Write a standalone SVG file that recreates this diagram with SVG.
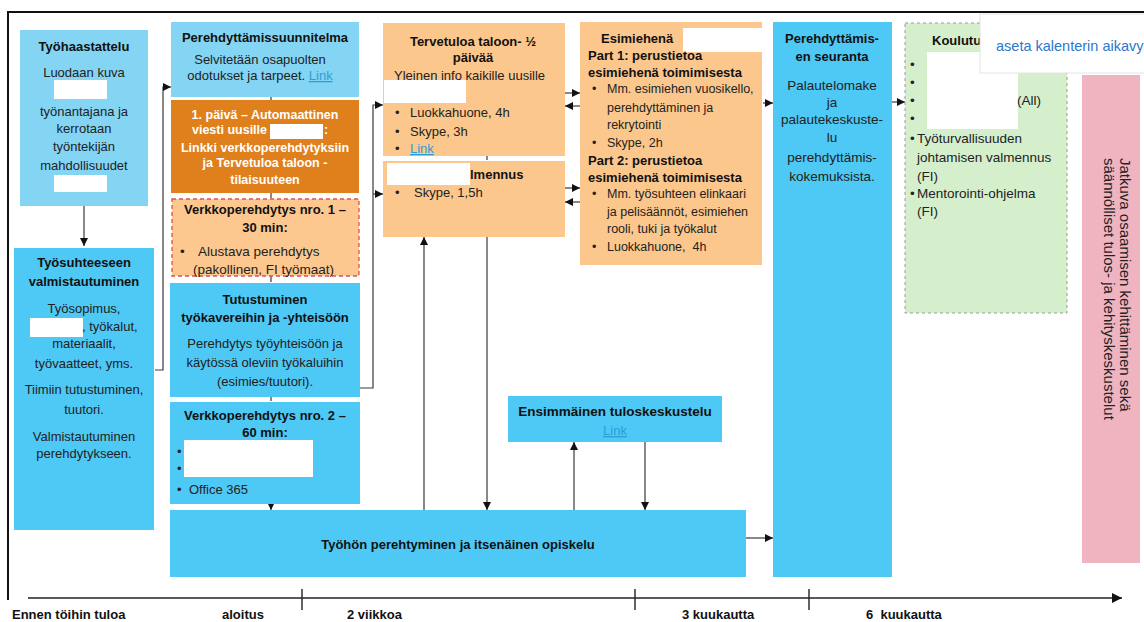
<svg xmlns="http://www.w3.org/2000/svg" width="1144" height="622" viewBox="0 0 1144 622">
<style>
text{font-family:"Liberation Sans",Arial,sans-serif;font-size:13px;fill:#222}
.b{font-weight:bold;font-size:13px;fill:#111}
.c{text-anchor:middle}
.w{fill:#fff;font-weight:bold;font-size:12.5px}
.e{font-size:12.5px}
.k{font-size:13.5px}
.lnk{fill:#2a9fd8;text-decoration:underline}
.lb{fill:#84d4f3}
.db{fill:#4ec8f4}
.lo{fill:#fcc78c}
.mask{fill:#fff}
.cn{fill:none;stroke:#3a3a3a;stroke-width:1.2}
.ax{fill:none;stroke:#222;stroke-width:1.4}
.tl{font-weight:bold;font-size:13px;fill:#111}
</style>
<defs>
<marker id="ah" viewBox="0 0 10 10" refX="10" refY="5" markerWidth="8" markerHeight="8" markerUnits="userSpaceOnUse" orient="auto">
<path d="M0,0 L10,5 L0,10 z" fill="#111"/>
</marker>
<marker id="ah2" viewBox="0 0 10 10" refX="10" refY="5" markerWidth="10" markerHeight="10" markerUnits="userSpaceOnUse" orient="auto">
<path d="M0,0 L10,5 L0,10 z" fill="#111"/>
</marker>
</defs>
<rect x="0" y="0" width="1144" height="622" fill="#fff"/>
<path d="M8,600 V12 H1144" fill="none" stroke="#111" stroke-width="2"/>

<g id="connectors">
<path class="cn" d="M84,206 V246" marker-end="url(#ah)"/>
<path class="cn" d="M155,370 H163 V87 H171" marker-end="url(#ah)"/>
<path class="cn" d="M271,97 V100 M271,193 V198 M271,276 V282 M271,397 V401"/>
<path class="cn" d="M271,504 V510" marker-end="url(#ah)"/>
<path class="cn" d="M360,388 H373 V105 H383" marker-end="url(#ah)"/>
<path class="cn" d="M373,194 H383" marker-end="url(#ah)"/>
<path class="cn" d="M565,93 H580" marker-end="url(#ah)"/>
<path class="cn" d="M580,106 H565" marker-end="url(#ah)"/>
<path class="cn" d="M565,188 H580" marker-end="url(#ah)"/>
<path class="cn" d="M580,202 H565" marker-end="url(#ah)"/>
<path class="cn" d="M487,142 V160"/>
<path class="cn" d="M487,237 V510" marker-end="url(#ah)"/>
<path class="cn" d="M424,510 V237" marker-end="url(#ah)"/>
<path class="cn" d="M574,510 V442" marker-end="url(#ah)"/>
<path class="cn" d="M645,442 V510" marker-end="url(#ah)"/>
<path class="cn" d="M746,538 H773" marker-end="url(#ah)"/>
<path class="cn" d="M763,103 H773" marker-end="url(#ah)"/>
<path class="cn" d="M892,102 H905" marker-end="url(#ah)"/>
</g>

<g id="n-tyohaastattelu">
<rect class="lb" x="20" y="30" width="128" height="176"/>
<text class="b c" x="84" y="51">Työhaastattelu</text>
<text class="c" x="84" y="77">Luodaan kuva</text>
<rect class="mask" x="54" y="80" width="53" height="19"/>
<text class="c" x="84" y="116">työnantajana ja</text>
<text class="c" x="84" y="133">kerrotaan</text>
<text class="c" x="84" y="151">työntekijän</text>
<text class="c" x="84" y="170">mahdollisuudet</text>
<rect class="mask" x="54" y="175" width="53" height="17"/>
</g>

<g id="n-tyosuhteeseen">
<rect class="db" x="14" y="248" width="140" height="282"/>
<text class="b c" x="84" y="267">Työsuhteeseen</text>
<text class="b c" x="84" y="286">valmistautuminen</text>
<text class="c" x="84" y="313">Työsopimus,</text>
<rect class="mask" x="30" y="318" width="53" height="19"/>
<text x="82" y="331">, työkalut,</text>
<text class="c" x="84" y="348">materiaalit,</text>
<text class="c" x="84" y="368">työvaatteet, yms.</text>
<text class="c" x="84" y="394">Tiimiin tutustuminen,</text>
<text class="c" x="84" y="414">tuutori.</text>
<text class="c" x="84" y="441">Valmistautuminen</text>
<text class="c" x="84" y="458">perehdytykseen.</text>
</g>

<g id="n-suunnitelma">
<rect class="lb" x="171" y="22" width="188" height="75"/>
<text class="b c" x="265" y="42">Perehdyttämissuunnitelma</text>
<text class="c" x="260" y="64">Selvitetään osapuolten</text>
<text class="c" x="260" y="80">odotukset ja tarpeet. <tspan class="lnk">Link</tspan></text>
</g>

<g id="n-paiva1">
<rect x="171" y="100" width="188" height="93" fill="#e0801c"/>
<text class="w c" x="265" y="119">1. päivä – Automaattinen</text>
<text class="w" x="267" y="134" text-anchor="end">viesti uusille</text>
<rect x="270" y="124" width="53" height="15" fill="#fff"/>
<text class="w" x="324" y="134">:</text>
<text class="w c" x="265" y="152">Linkki verkkoperehdytyksiin</text>
<text class="w c" x="265" y="167">ja Tervetuloa taloon -</text>
<text class="w c" x="265" y="184">tilaisuuteen</text>
</g>

<g id="n-verkko1">
<rect x="172" y="199" width="187" height="77" fill="#fdc890" stroke="#d9534f" stroke-width="1.3" stroke-dasharray="4,3"/>
<text class="b c" x="265" y="214">Verkkoperehdytys nro. 1 –</text>
<text class="b c" x="265" y="232">30 min:</text>
<text class="k" x="180" y="256">•</text>
<text class="k" x="198" y="256">Alustava perehdytys</text>
<text class="k" x="193" y="274">(pakollinen,  FI työmaat)</text>
</g>

<g id="n-tutustuminen">
<rect class="db" x="170" y="283" width="190" height="114"/>
<text class="b c" x="265" y="304">Tutustuminen</text>
<text class="b c" x="265" y="322">työkavereihin ja -yhteisöön</text>
<text class="c" x="265" y="348">Perehdytys työyhteisöön ja</text>
<text class="c" x="265" y="367">käytössä oleviin työkaluihin</text>
<text class="c" x="265" y="386">(esimies/tuutori).</text>
</g>

<g id="n-verkko2">
<rect class="db" x="170" y="402" width="190" height="102"/>
<text class="b c" x="265" y="420">Verkkoperehdytys nro. 2 –</text>
<text class="b c" x="265" y="437">60 min:</text>
<text x="177" y="456">•</text>
<text x="177" y="473">•</text>
<rect class="mask" x="184" y="440" width="129" height="37"/>
<text x="177" y="494">•</text>
<text x="189" y="494">Office 365</text>
</g>

<g id="n-tyohon">
<rect class="db" x="170" y="510" width="576" height="67"/>
<text class="b c" x="458" y="549">Työhön perehtyminen ja itsenäinen opiskelu</text>
</g>

<g id="n-tervetuloa">
<rect class="lo" x="383" y="23" width="182" height="133"/>
<text class="b c" x="473" y="46">Tervetuloa taloon- ½</text>
<text class="b c" x="473" y="62">päivää</text>
<text x="394" y="80">Yleinen info kaikille uusille</text>
<rect class="mask" x="384" y="80" width="82" height="23"/>
<text x="395" y="117">•</text>
<text x="410" y="117">Luokkahuone, 4h</text>
<text x="395" y="136">•</text>
<text x="410" y="136">Skype, 3h</text>
<text x="395" y="153">•</text>
<text class="lnk" x="410" y="153">Link</text>
</g>

<g id="n-valmennus">
<rect class="lo" x="383" y="161" width="182" height="76"/>
<rect class="mask" x="387" y="163" width="83" height="22"/>
<text class="b" x="470" y="179">lmennus</text>
<text x="395" y="197">•</text>
<text x="414" y="197">Skype, 1,5h</text>
</g>

<g id="n-esimiehena">
<rect class="lo" x="580" y="22" width="182" height="243"/>
<text class="b" x="601" y="43">Esimiehenä</text>
<rect class="mask" x="683" y="28" width="80" height="24"/>
<text class="b" x="588" y="60">Part 1: perustietoa</text>
<text class="b" x="588" y="77">esimiehenä toimimisesta</text>
<text class="e" x="592" y="93">•</text>
<text class="e" x="607" y="93">Mm. esimiehen vuosikello,</text>
<text class="e" x="607" y="112">perehdyttäminen ja</text>
<text class="e" x="607" y="129">rekrytointi</text>
<text class="e" x="592" y="147">•</text>
<text class="e" x="607" y="147">Skype, 2h</text>
<text class="b" x="588" y="165">Part 2: perustietoa</text>
<text class="b" x="588" y="182">esimiehenä toimimisesta</text>
<text class="e" x="592" y="198">•</text>
<text class="e" x="607" y="198">Mm. työsuhteen elinkaari</text>
<text class="e" x="607" y="216">ja pelisäännöt, esimiehen</text>
<text class="e" x="607" y="233">rooli, tuki ja työkalut</text>
<text class="e" x="592" y="251">•</text>
<text class="e" x="607" y="251" xml:space="preserve">Luokkahuone,  4h</text>
</g>

<g id="n-seuranta">
<rect class="db" x="773" y="22" width="119" height="555"/>
<text class="b c" x="832" y="43">Perehdyttämis-</text>
<text class="b c" x="832" y="61">en seuranta</text>
<text class="c k" x="832" y="90">Palautelomake</text>
<text class="c k" x="832" y="107">ja</text>
<text class="c k" x="832" y="124">palautekeskuste-</text>
<text class="c k" x="832" y="142">lu</text>
<text class="c k" x="832" y="162">perehdyttämis-</text>
<text class="c k" x="832" y="181">kokemuksista.</text>
</g>

<g id="n-ensimmainen">
<rect class="db" x="508" y="396" width="214" height="46"/>
<text class="b c" x="615" y="416" style="font-size:13.5px">Ensimmäinen tuloskeskustelu</text>
<text class="lnk c" x="615" y="435">Link</text>
</g>

<g id="n-koulutus">
<rect x="905" y="23" width="162" height="290" fill="#d5efcd" stroke="#9a9a9a" stroke-width="1" stroke-dasharray="3,3"/>
<text class="b" x="932" y="45">Koulutu</text>
<text class="k" x="910" y="69">•</text>
<text class="k" x="910" y="87">•</text>
<text class="k" x="910" y="105">•</text>
<text class="k" x="910" y="123">•</text>
<rect class="mask" x="927" y="52" width="91" height="77"/>
<text class="k" x="1017" y="105">(All)</text>
<text class="k" x="910" y="143">•</text>
<text class="k" x="917" y="143">Työturvallisuuden</text>
<text class="k" x="917" y="162">johtamisen valmennus</text>
<text class="k" x="917" y="181">(FI)</text>
<text class="k" x="910" y="198">•</text>
<text class="k" x="917" y="198">Mentorointi-ohjelma</text>
<text class="k" x="917" y="216">(FI)</text>
</g>

<g id="n-jatkuva">
<rect x="1082" y="75" width="58" height="488" fill="#f0b4c1"/>
<text transform="translate(1120,158) rotate(90)" style="font-size:15px">Jatkuva osaamisen kehittäminen sekä</text>
<text transform="translate(1104,158) rotate(90)" style="font-size:15px">säännölliset tulos- ja kehityskeskustelut</text>
</g>

<g id="n-popup">
<rect x="980" y="14" width="170" height="59" fill="#fff" stroke="#e4e4e4" stroke-width="1"/>
<text x="996" y="51" style="font-size:14.5px;fill:#2b78c9">aseta kalenterin aikavy</text>
</g>

<g id="timeline">
<path class="ax" d="M28,598 H1122" marker-end="url(#ah2)"/>
<path class="ax" d="M302,589 V610 M635,589 V610 M809,589 V610"/>
<text class="tl" x="12" y="619">Ennen töihin tuloa</text>
<text class="tl" x="222" y="619">aloitus</text>
<text class="tl" x="347" y="619">2 viikkoa</text>
<text class="tl" x="682" y="619">3 kuukautta</text>
<text class="tl" x="866" y="619" xml:space="preserve">6  kuukautta</text>
</g>
</svg>
